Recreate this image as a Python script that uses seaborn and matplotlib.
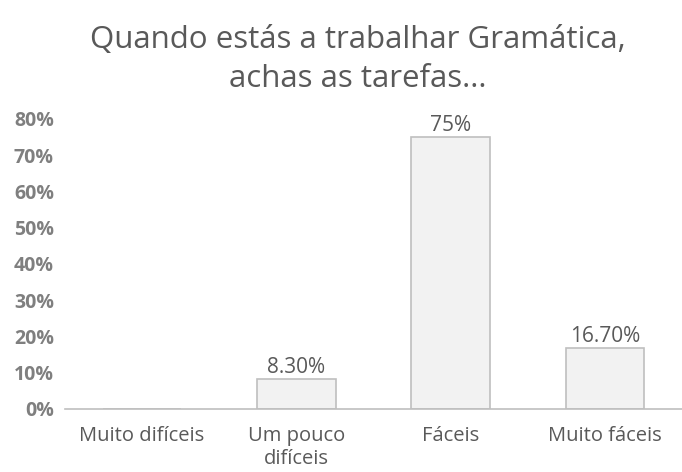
import matplotlib
matplotlib.use("Agg")
import matplotlib.pyplot as plt
import seaborn as sns

categories = ["Muito difíceis", "Um pouco\ndifíceis", "Fáceis", "Muito fáceis"]
values = [0.0, 0.083, 0.75, 0.167]
value_labels = ["", "8.30%", "75%", "16.70%"]
yticks = [0, 0.1, 0.2, 0.3, 0.4, 0.5, 0.6, 0.7, 0.8]
ytick_labels = ["0%", "10%", "20%", "30%", "40%", "50%", "60%", "70%", "80%"]
title = "Quando estás a trabalhar Gramática,\nachas as tarefas..."

sns.set_theme(style="white")
plt.rcParams['font.family'] = ['Open Sans', 'DejaVu Sans']

fig = plt.figure(figsize=(6.82, 4.72), dpi=100)
ax = fig.add_axes([0.0953, 0.1335, 0.9047, 0.6145])

sns.barplot(x=categories, y=values, color="#f2f2f2", edgecolor="#bfbfbf",
            linewidth=1.2, width=0.51, saturation=1, ax=ax)

ax.set_ylim(0, 0.8)
ax.set_yticks(yticks)
ax.set_yticklabels(ytick_labels, fontsize=14, fontweight="bold", color="#7f7f7f")
ax.tick_params(axis="y", length=0, pad=8)
ax.tick_params(axis="x", length=0, pad=12, labelsize=14.5, labelcolor="#595959")
for s in ["top", "right", "left"]:
    ax.spines[s].set_visible(False)
ax.spines["bottom"].set_color("#bfbfbf")
ax.spines["bottom"].set_linewidth(1.2)
ax.set_xlabel("")
ax.set_ylabel("")

ax.bar_label(ax.containers[0], labels=value_labels, padding=1, fontsize=15, color="#595959")

fig.text(0.525, 0.948, title, ha="center", va="top", fontsize=22.5, color="#595959",
         linespacing=1.4)

fig.savefig("out.png", dpi=100)
